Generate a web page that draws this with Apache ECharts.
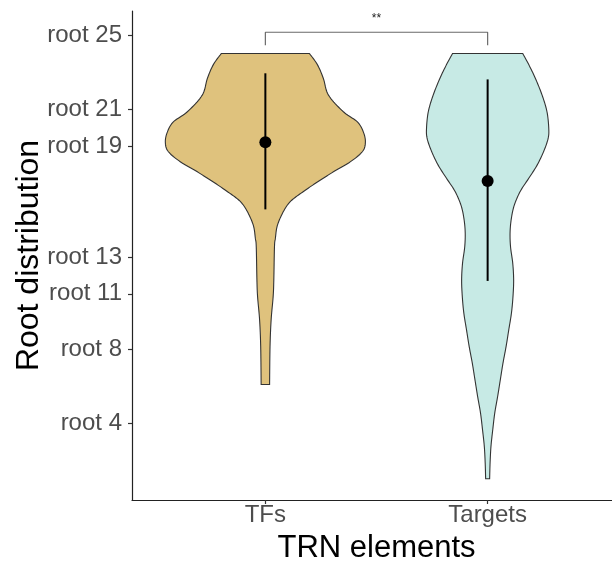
<!DOCTYPE html>
<html>
<head>
<meta charset="utf-8">
<script src="https://cdn.jsdelivr.net/npm/echarts@6/dist/echarts.min.js"></script>
<style>
  html, body { margin: 0; padding: 0; background: #fff; }
  #chart { width: 612px; height: 561px; }
</style>
</head>
<body>
<div id="chart"></div>
<script>
// Categories and y-axis ticks
const categories = ['TFs', 'Targets'];
const yTickValues = [4, 8, 11, 13, 19, 21, 25];

// Violin outlines: root level and half-width (in category units) of the density
const tfLevels = [24.0, 23.4, 22.65, 21.75, 20.85, 20.3, 19.75, 19.2, 18.7, 18.15, 17.6, 17.05, 16.5, 16.0, 15.45, 14.7, 14.0, 13.55, 11.75, 10.85, 9.6, 8.15, 6.1];
const tfHalfWidth = [0.198, 0.234, 0.261, 0.284, 0.351, 0.414, 0.441, 0.450, 0.437, 0.383, 0.306, 0.234, 0.167, 0.113, 0.081, 0.054, 0.045, 0.041, 0.038, 0.035, 0.026, 0.021, 0.019];

const tgLevels = [24.0, 23.4, 22.65, 21.75, 20.85, 19.95, 19.4, 18.7, 17.95, 17.25, 16.55, 15.8, 15.1, 14.35, 13.55, 12.65, 11.75, 10.85, 9.95, 9.05, 8.15, 7.25, 6.35, 5.45, 4.55, 3.65, 2.75, 1.85, 1.0];
const tgHalfWidth = [0.158, 0.185, 0.215, 0.245, 0.267, 0.275, 0.272, 0.252, 0.222, 0.185, 0.147, 0.120, 0.107, 0.101, 0.103, 0.113, 0.117, 0.114, 0.107, 0.095, 0.083, 0.069, 0.057, 0.045, 0.032, 0.023, 0.015, 0.011, 0.009];

// Mean and spread per group
const groupMean = [19.2, 17.1];
const groupLow = [15.57, 11.7];
const groupHigh = [22.93, 22.6];

// Significance bracket between the two groups
const bracketX = [1, 2];
const bracketY = 25.15;
const bracketTipY = 24.45;
const bracketLabel = '**';
const bracketLabelY = 25.9;

const fills = ['#DFC27D', '#C7EAE5'];
const violins = [
  { levels: tfLevels, half: tfHalfWidth },
  { levels: tgLevels, half: tgHalfWidth }
];

// Catmull-Rom sampling of an outline for a smooth edge
function smoothLine(pts, steps) {
  const out = [];
  const n = pts.length;
  for (let i = 0; i < n - 1; i++) {
    const p0 = pts[Math.max(i - 1, 0)], p1 = pts[i], p2 = pts[i + 1], p3 = pts[Math.min(i + 2, n - 1)];
    for (let s = 0; s < steps; s++) {
      const t = s / steps, t2 = t * t, t3 = t2 * t;
      const f = (a, b, c, d) => 0.5 * ((2 * b) + (-a + c) * t + (2 * a - 5 * b + 4 * c - d) * t2 + (-a + 3 * b - 3 * c + d) * t3);
      out.push([f(p0[0], p1[0], p2[0], p3[0]), f(p0[1], p1[1], p2[1], p3[1])]);
    }
  }
  out.push(pts[n - 1]);
  return out;
}

const chart = echarts.init(document.getElementById('chart'), null, { renderer: 'canvas' });

const font = 'Liberation Sans, Arial, Helvetica, sans-serif';

const option = {
  animation: false,
  backgroundColor: '#ffffff',
  grid: { left: 132, top: 11, right: -9, bottom: 61, containLabel: false, outerBoundsMode: 'none' },
  xAxis: {
    type: 'value',
    min: 0.4,
    max: 2.6,
    name: 'TRN elements',
    nameLocation: 'middle',
    nameGap: 33,
    nameMoveOverlap: false,
    nameTextStyle: { fontSize: 31, color: '#000', fontFamily: font },
    axisLine: { show: true, onZero: false, lineStyle: { color: '#222', width: 1.2 } },
    axisTick: { show: true, customValues: [1, 2], length: 4, lineStyle: { color: '#333', width: 1.2 } },
    axisLabel: {
      show: true, customValues: [1, 2], margin: 3,
      fontSize: 24, color: '#4d4d4d', fontFamily: font,
      formatter: v => categories[Math.round(v) - 1]
    },
    splitLine: { show: false }
  },
  yAxis: {
    type: 'value',
    min: -0.15,
    max: 26.3,
    name: 'Root distribution',
    nameLocation: 'middle',
    nameGap: 87,
    nameMoveOverlap: false,
    nameTextStyle: { fontSize: 32, color: '#000', fontFamily: font },
    axisLine: { show: true, onZero: false, lineStyle: { color: '#222', width: 1.2 } },
    axisTick: { show: true, customValues: yTickValues, length: 4, lineStyle: { color: '#333', width: 1.2 } },
    axisLabel: {
      show: true, customValues: yTickValues, margin: 10,
      fontSize: 24, color: '#4d4d4d', fontFamily: font,
      formatter: v => 'root ' + v
    },
    splitLine: { show: false }
  },
  series: [
    {
      type: 'custom',
      name: 'violin',
      z: 1,
      data: categories.map((c, i) => [i + 1]),
      renderItem: function (params, api) {
        const i = params.dataIndex;
        const c = i + 1;
        const v = violins[i];
        const right = v.levels.map((lv, k) => api.coord([c + v.half[k], lv]));
        const left = v.levels.map((lv, k) => api.coord([c - v.half[k], lv]));
        const r = smoothLine(right, 10);
        const l = smoothLine(left, 10).reverse();
        return {
          type: 'polygon',
          shape: { points: r.concat(l) },
          style: { fill: fills[i], stroke: '#333', lineWidth: 1.1 }
        };
      }
    },
    {
      type: 'custom',
      name: 'spread',
      z: 2,
      data: categories.map((c, i) => [i + 1, groupLow[i], groupHigh[i]]),
      renderItem: function (params, api) {
        const p1 = api.coord([api.value(0), api.value(1)]);
        const p2 = api.coord([api.value(0), api.value(2)]);
        return {
          type: 'line',
          shape: { x1: p1[0], y1: p1[1], x2: p2[0], y2: p2[1] },
          style: { stroke: '#000', lineWidth: 2 }
        };
      }
    },
    {
      type: 'scatter',
      name: 'mean',
      z: 3,
      symbol: 'circle',
      symbolSize: 12,
      itemStyle: { color: '#000', opacity: 1 },
      data: groupMean.map((m, i) => [i + 1, m])
    },
    {
      type: 'line',
      name: 'bracket',
      z: 2,
      symbol: 'none',
      lineStyle: { color: '#6a6a6a', width: 1.2 },
      data: [[bracketX[0], bracketTipY], [bracketX[0], bracketY], [bracketX[1], bracketY], [bracketX[1], bracketTipY]]
    },
    {
      type: 'custom',
      name: 'bracketLabel',
      z: 3,
      data: [[(bracketX[0] + bracketX[1]) / 2, bracketLabelY]],
      renderItem: function (params, api) {
        const p = api.coord([api.value(0), api.value(1)]);
        return {
          type: 'text',
          x: p[0], y: p[1],
          style: {
            text: bracketLabel, fill: '#222', fontSize: 12, fontFamily: font,
            align: 'center', verticalAlign: 'middle'
          }
        };
      }
    }
  ]
};

chart.setOption(option);
</script>
</body>
</html>
